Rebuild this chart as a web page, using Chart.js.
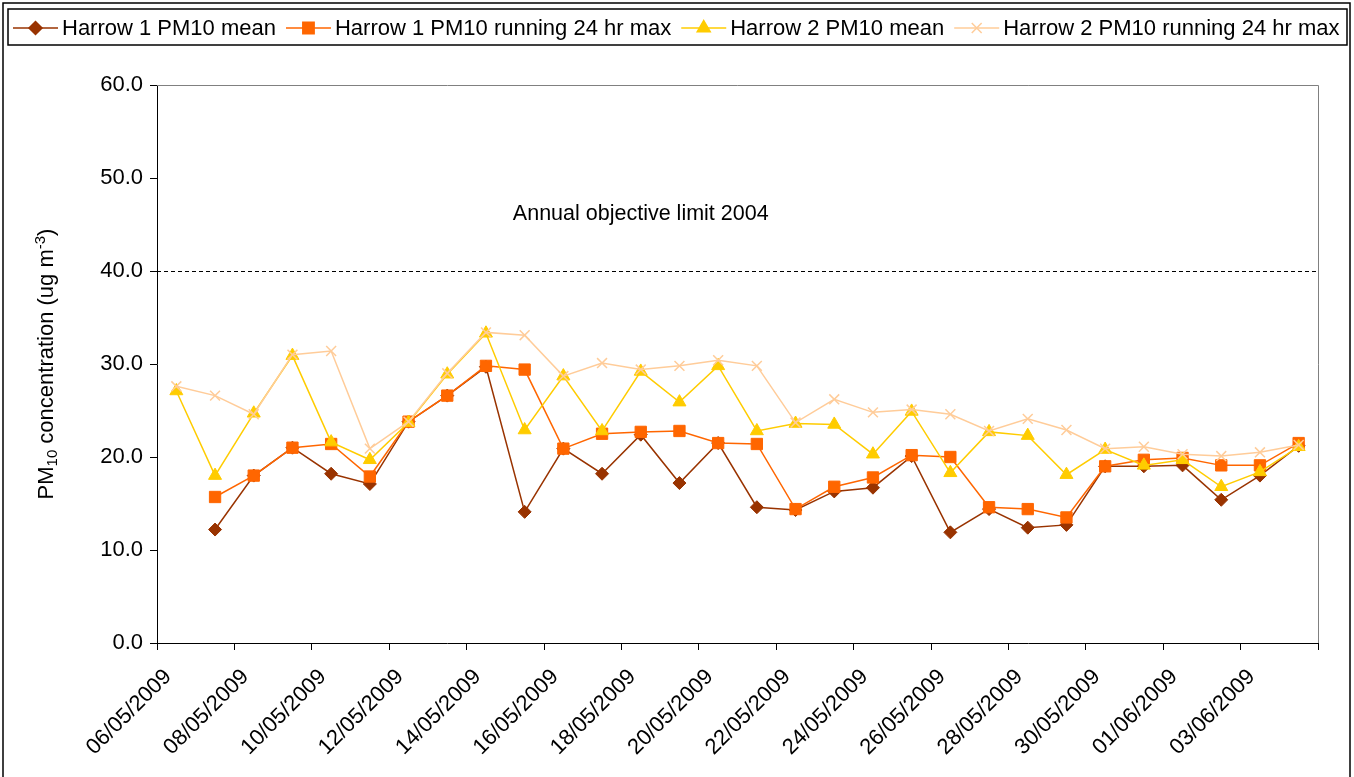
<!DOCTYPE html>
<html>
<head>
<meta charset="utf-8">
<title>Harrow PM10</title>
<script src="https://cdn.jsdelivr.net/npm/chart.js"></script>
<style>
  html, body { margin: 0; padding: 0; background: #fff; }
  #wrap { width: 1354px; height: 777px; }
</style>
</head>
<body>
<div id="wrap"><canvas id="pm-canvas" width="1354" height="777"></canvas></div>
<script>
var dates = ['06/05/2009', '07/05/2009', '08/05/2009', '09/05/2009', '10/05/2009',
  '11/05/2009', '12/05/2009', '13/05/2009', '14/05/2009', '15/05/2009',
  '16/05/2009', '17/05/2009', '18/05/2009', '19/05/2009', '20/05/2009',
  '21/05/2009', '22/05/2009', '23/05/2009', '24/05/2009', '25/05/2009',
  '26/05/2009', '27/05/2009', '28/05/2009', '29/05/2009', '30/05/2009',
  '31/05/2009', '01/06/2009', '02/06/2009', '03/06/2009', '04/06/2009'];

var harrow1Mean = [null, 12.2, 18.0, 21.0, 18.2, 17.1, 23.8, 26.6, 29.7, 14.1,
  20.9, 18.2, 22.4, 17.2, 21.5, 14.6, 14.3, 16.3, 16.7, 20.1,
  11.9, 14.4, 12.4, 12.7, 19.0, 19.0, 19.1, 15.4, 18.0, 21.2];
var harrow1Max = [null, 15.7, 18.0, 21.0, 21.4, 17.9, 23.8, 26.6, 29.8, 29.4,
  20.9, 22.5, 22.7, 22.8, 21.5, 21.4, 14.4, 16.8, 17.8, 20.2,
  20.0, 14.6, 14.4, 13.5, 19.0, 19.7, 19.9, 19.1, 19.1, 21.5];
var harrow2Mean = [27.1, 18.0, 24.7, 30.9, 21.6, 19.7, 23.7, 28.9, 33.3, 22.9,
  28.7, 22.8, 29.2, 25.9, 29.8, 22.8, 23.6, 23.5, 20.3, 24.9,
  18.3, 22.7, 22.3, 18.1, 20.8, 19.1, 19.7, 16.8, 18.4, 21.1];
var harrow2Max = [27.6, 26.6, 24.6, 31.0, 31.4, 20.9, 23.8, 29.0, 33.4, 33.1,
  28.7, 30.1, 29.4, 29.8, 30.4, 29.8, 23.7, 26.2, 24.8, 25.1,
  24.6, 22.8, 24.1, 22.9, 20.9, 21.1, 20.3, 20.1, 20.5, 21.3];

var seriesNames = ['Harrow 1 PM10 mean', 'Harrow 1 PM10 running 24 hr max',
  'Harrow 2 PM10 mean', 'Harrow 2 PM10 running 24 hr max'];
var yMin = 0, yMax = 60, yStep = 10;
var limitValue = 40;
var limitText = 'Annual objective limit 2004';

var FONT = "'Liberation Sans', Arial, sans-serif";

// points sit in the middle of each day
function toPoints(values) {
  var pts = [];
  for (var i = 0; i < values.length; i++) {
    pts.push({ x: i + 0.5, y: values[i] });
  }
  return pts;
}

function makeSeries(name, values, color, style, radius, order) {
  return {
    label: name,
    data: toPoints(values),
    borderColor: color,
    backgroundColor: color,
    borderWidth: 1.5,
    pointStyle: style,
    pointRadius: radius,
    pointBorderWidth: style === 'crossRot' ? 1.5 : 1,
    pointBorderColor: color,
    pointBackgroundColor: color,
    tension: 0,
    order: order
  };
}

var chromePlugin = {
  id: 'chrome',
  beforeDraw: function(chart) {
    var ctx = chart.ctx;
    ctx.save();
    ctx.fillStyle = '#fff';
    ctx.fillRect(0, 0, chart.width, chart.height);
    ctx.strokeStyle = '#000';
    ctx.lineWidth = 1.5;
    ctx.strokeRect(3, 3, chart.width - 7, chart.height + 10);
    ctx.restore();
  },
  beforeDatasetsDraw: function(chart) {
    var ctx = chart.ctx, a = chart.chartArea;
    var y = chart.scales.y.getPixelForValue(limitValue);
    ctx.save();
    ctx.strokeStyle = '#808080';
    ctx.lineWidth = 1;
    ctx.beginPath();
    ctx.moveTo(a.left, a.top + 0.5);
    ctx.lineTo(a.right + 0.5, a.top + 0.5);
    ctx.lineTo(a.right + 0.5, a.bottom);
    ctx.stroke();
    ctx.strokeStyle = '#000';
    ctx.setLineDash([4, 3]);
    ctx.beginPath();
    ctx.moveTo(a.left, Math.round(y) + 0.5);
    ctx.lineTo(a.right, Math.round(y) + 0.5);
    ctx.stroke();
    ctx.restore();
  },
  afterDraw: function(chart) {
    var ctx = chart.ctx, a = chart.chartArea;
    ctx.save();
    // limit label
    ctx.fillStyle = '#000';
    ctx.font = '21.5px ' + FONT;
    ctx.textAlign = 'center';
    ctx.textBaseline = 'middle';
    ctx.fillText(limitText, chart.scales.x.getPixelForValue(12.5), chart.scales.y.getPixelForValue(46.1));
    drawYTitle(ctx, 45, (a.top + a.bottom) / 2);
    drawLegend(chart);
    ctx.restore();
  }
};

function drawYTitle(ctx, cx, cy) {
  var parts = [
    { t: 'PM', size: 22, dy: 0 },
    { t: '10', size: 15, dy: 4 },
    { t: ' concentration (ug m', size: 22, dy: 0 },
    { t: '-3', size: 15, dy: -8 },
    { t: ')', size: 22, dy: 0 }
  ];
  var total = 0, i;
  for (i = 0; i < parts.length; i++) {
    ctx.font = parts[i].size + 'px ' + FONT;
    parts[i].w = ctx.measureText(parts[i].t).width;
    total += parts[i].w;
  }
  ctx.save();
  ctx.translate(cx, cy);
  ctx.rotate(-Math.PI / 2);
  ctx.fillStyle = '#000';
  ctx.textAlign = 'left';
  ctx.textBaseline = 'alphabetic';
  var x = -total / 2;
  for (i = 0; i < parts.length; i++) {
    ctx.font = parts[i].size + 'px ' + FONT;
    ctx.fillText(parts[i].t, x, 8 + parts[i].dy);
    x += parts[i].w;
  }
  ctx.restore();
}

function drawLegend(chart) {
  var ctx = chart.ctx;
  var sets = chart.data.datasets;
  ctx.save();
  ctx.strokeStyle = '#000';
  ctx.lineWidth = 1.5;
  ctx.strokeRect(8, 9, chart.width - 15, 36);
  ctx.font = '22px ' + FONT;
  ctx.textAlign = 'left';
  ctx.textBaseline = 'middle';
  var x = 13, y = 28;
  for (var i = 0; i < sets.length; i++) {
    var ds = sets[i];
    ctx.strokeStyle = ds.borderColor;
    ctx.lineWidth = 1.5;
    ctx.beginPath();
    ctx.moveTo(x, y);
    ctx.lineTo(x + 45, y);
    ctx.stroke();
    ctx.fillStyle = ds.pointBackgroundColor;
    Chart.helpers.drawPoint(ctx, {
      pointStyle: ds.pointStyle, radius: ds.pointRadius, rotation: 0,
      borderWidth: ds.pointBorderWidth
    }, x + 22.5, y);
    ctx.fillStyle = '#000';
    ctx.fillText(ds.label, x + 49, y + 1);
    x += 49 + ctx.measureText(ds.label).width + 10;
  }
  ctx.restore();
}

var PMChart = {
  chart: null,

  main: function() {
    var ctx = document.getElementById('pm-canvas').getContext('2d');
    this.chart = new Chart(ctx, {
      type: 'line',
      data: {
        datasets: [
          makeSeries(seriesNames[0], harrow1Mean, '#993300', 'rectRot', 6.5, 4),
          makeSeries(seriesNames[1], harrow1Max, '#FF6600', 'rect', 8, 3),
          makeSeries(seriesNames[2], harrow2Mean, '#FFCC00', 'triangle', 7.5, 2),
          makeSeries(seriesNames[3], harrow2Max, '#FFCC99', 'crossRot', 7, 1)
        ]
      },
      options: {
        responsive: false,
        animation: false,
        devicePixelRatio: 1,
        layout: { padding: { top: 85, right: 36, left: 0, bottom: 0 } },
        plugins: {
          legend: { display: false },
          tooltip: { enabled: false }
        },
        scales: {
          x: {
            type: 'linear',
            min: 0,
            max: dates.length,
            ticks: {
              stepSize: 2,
              autoSkip: false,
              minRotation: 45,
              maxRotation: 45,
              padding: 14,
              labelOffset: 11,
              color: '#000',
              font: { family: FONT, size: 22 },
              callback: function(v) { return dates[v] || ''; }
            },
            grid: { drawOnChartArea: false, drawTicks: true, tickLength: 7, color: '#000' },
            border: { color: '#000', width: 1 },
            afterFit: function(s) { s.height = 134; }
          },
          y: {
            min: yMin,
            max: yMax,
            ticks: {
              stepSize: yStep,
              padding: 7,
              color: '#000',
              font: { family: FONT, size: 22 },
              callback: function(v) { return v.toFixed(1); }
            },
            grid: { drawOnChartArea: false, drawTicks: true, tickLength: 7, color: '#000' },
            border: { color: '#000', width: 1 },
            afterFit: function(s) { s.width = 157; }
          }
        }
      },
      plugins: [chromePlugin]
    });
  }
};

PMChart.main();
</script>
</body>
</html>
